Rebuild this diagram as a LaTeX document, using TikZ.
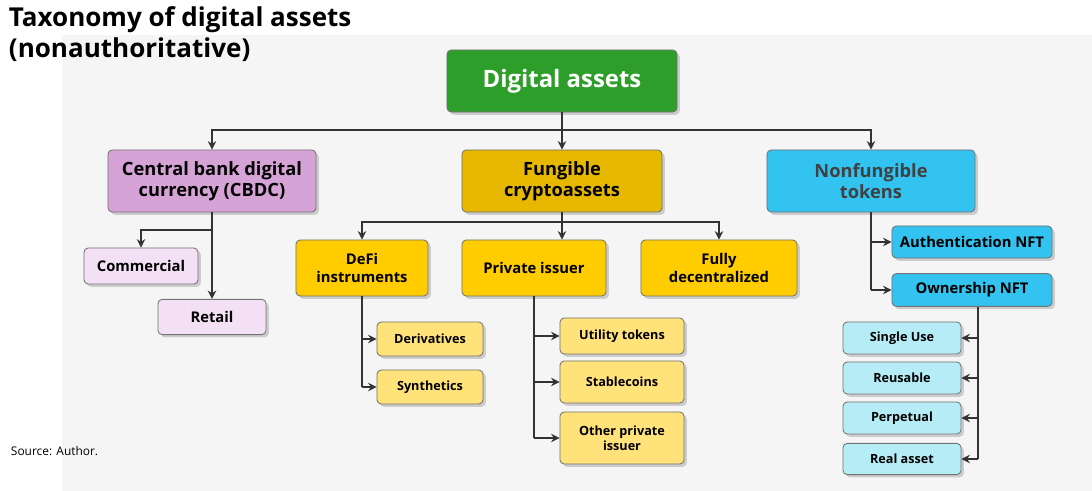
\documentclass[tikz,border=0pt]{standalone}
\usepackage{fontspec}
\setmainfont{Open Sans}
\usetikzlibrary{positioning,arrows.meta,shadows}
\definecolor{dgreen}{HTML}{2E9E2A}
\definecolor{cbdcc}{HTML}{D6A3D6}
\definecolor{cbdcl}{HTML}{F4E0F4}
\definecolor{gold}{HTML}{E6B800}
\definecolor{ylw}{HTML}{FFCC00}
\definecolor{lylw}{HTML}{FFE27A}
\definecolor{cyan1}{HTML}{33C3F0}
\definecolor{lcyan}{HTML}{B5ECF6}
\begin{document}
\begin{tikzpicture}
    [x=0.025cm,y=-0.025cm,
     box/.style={rectangle,rounded corners=3pt,draw=black!55,line width=0.6pt,align=center,
       font=\bfseries,inner sep=2pt,drop shadow={opacity=0.35,shadow xshift=2pt,shadow yshift=-2pt}},
     big/.style={box,font=\bfseries\fontsize{13}{15}\selectfont},
     mid/.style={box,font=\bfseries\fontsize{10.5}{13}\selectfont},
     small/.style={box,font=\bfseries\fontsize{9}{11}\selectfont},
     line/.style={draw=black!80,line width=1.4pt},
     arr/.style={line,-{Stealth[length=6pt,width=6pt]}}]
    \useasboundingbox (0,0) rectangle (1092,491);
    \fill[black!4] (62,35) rectangle (1092,491);
    \node[anchor=north west,align=left,font=\bfseries\fontsize{18.5}{22}\selectfont] (title) at (4,2)
      {Taxonomy of digital assets\\(nonauthoritative)};
    \node[anchor=west,font=\fontsize{8.5}{10}\selectfont] (source) at (6,451) {Source: Author.};
    % top level
    \node[box,fill=dgreen,text=white,minimum width=5.75cm,minimum height=1.55cm,
      font=\bfseries\fontsize{17}{20}\selectfont] (digital) at (562,81) {Digital assets};
    \node[big,fill=cbdcc,minimum width=5.2cm,minimum height=1.55cm] (cbdc) at (212,181)
      {Central bank digital\\currency (CBDC)};
    \node[big,fill=gold,minimum width=5cm,minimum height=1.55cm] (fungible) at (562,181)
      {Fungible\\cryptoassets};
    \node[big,fill=cyan1,minimum width=5.2cm,minimum height=1.55cm,text=black!75] (nft) at (871,181)
      {Nonfungible\\tokens};
    % CBDC
    \node[mid,fill=cbdcl,minimum width=2.85cm,minimum height=0.9cm] (commercial) at (141,266) {Commercial};
    \node[mid,fill=cbdcl,minimum width=2.7cm,minimum height=0.88cm] (retail) at (212,317) {Retail};
    % fungible
    \node[mid,fill=ylw,minimum width=3.3cm,minimum height=1.4cm] (defi) at (362,268) {DeFi\\instruments};
    \node[mid,fill=ylw,minimum width=3.6cm,minimum height=1.4cm] (private) at (534,268) {Private issuer};
    \node[mid,fill=ylw,minimum width=3.9cm,minimum height=1.4cm] (fully) at (719,268) {Fully\\decentralized};
    \node[small,fill=lylw,minimum width=2.65cm,minimum height=0.85cm] (deriv) at (430,339) {Derivatives};
    \node[small,fill=lylw,minimum width=2.65cm,minimum height=0.85cm] (synth) at (430,387) {Synthetics};
    \node[small,fill=lylw,minimum width=3.1cm,minimum height=0.9cm] (utility) at (622,336) {Utility tokens};
    \node[small,fill=lylw,minimum width=3.1cm,minimum height=1.05cm] (stable) at (622,382) {Stablecoins};
    \node[small,fill=lylw,minimum width=3.1cm,minimum height=1.3cm] (other) at (622,438) {Other private\\issuer};
    % nonfungible
    \node[mid,fill=cyan1,minimum width=4cm,minimum height=0.8cm] (auth) at (972,242) {Authentication NFT};
    \node[mid,fill=cyan1,minimum width=4cm,minimum height=0.82cm] (own) at (972,290) {Ownership NFT};
    \node[small,fill=lcyan,minimum width=2.95cm,minimum height=0.8cm] (single) at (902,338) {Single Use};
    \node[small,fill=lcyan,minimum width=2.95cm,minimum height=0.8cm] (reuse) at (902,378) {Reusable};
    \node[small,fill=lcyan,minimum width=2.95cm,minimum height=0.8cm] (perp) at (902,418) {Perpetual};
    \node[small,fill=lcyan,minimum width=2.95cm,minimum height=0.78cm] (real) at (902,459) {Real asset};
    % connectors
    \coordinate (bus) at (562,130);
    \draw[arr] (digital.south) -- (fungible.north);
    \draw[arr] (bus) -| (cbdc.north);
    \draw[arr] (bus) -| (nft.north);
    \coordinate (cbus) at (212,230);
    \draw[arr] (cbdc.south) -- (retail.north);
    \draw[arr] (cbus) -| (commercial.north);
    \coordinate (fbus) at (562,222);
    \draw[arr] (fungible.south) -- (fungible.south |- private.north);
    \draw[arr] (fbus) -| (defi.north);
    \draw[arr] (fbus) -| (fully.north);
    \draw[line] (defi.south) -- (defi.south |- synth.west);
    \foreach \t in {deriv,synth}
      \draw[arr] (defi.south |- \t.west) -- (\t.west);
    \draw[line] (private.south) -- (private.south |- other.west);
    \foreach \t in {utility,stable,other}
      \draw[arr] (private.south |- \t.west) -- (\t.west);
    \draw[line] (nft.south) -- (nft.south |- own.west);
    \foreach \t in {auth,own}
      \draw[arr] (nft.south |- \t.west) -- (\t.west);
    \coordinate (ob) at (978,307);
    \draw[line] (ob) -- (ob |- real.east);
    \foreach \t in {single,reuse,perp,real}
      \draw[arr] (ob |- \t.east) -- (\t.east);
\end{tikzpicture}
\end{document}
